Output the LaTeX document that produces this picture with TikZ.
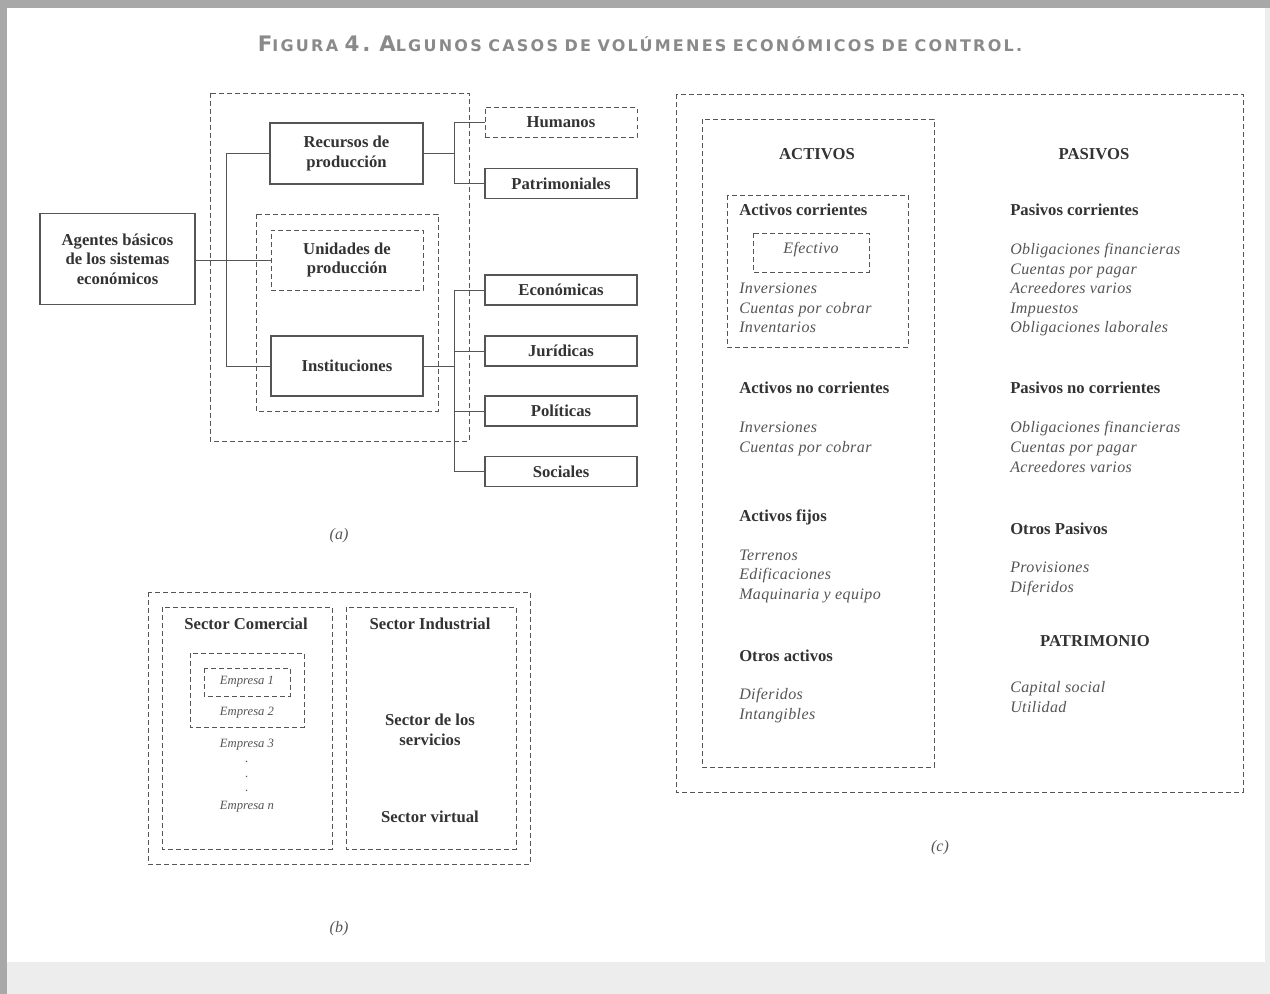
\documentclass[tikz,border=0pt]{standalone}
\usepackage{fontspec}
\setmainfont{Liberation Serif}
\newfontfamily\titlefont[LetterSpace=14]{DejaVu Sans}
\newfontfamily\itfont[LetterSpace=2.5]{Liberation Serif}
\usetikzlibrary{calc}
\definecolor{ink}{HTML}{333333}
\definecolor{lgray}{HTML}{555555}
\definecolor{itgray}{HTML}{555555}
\definecolor{ttl}{HTML}{8A8A8A}
\definecolor{band}{HTML}{A8A8A8}
\definecolor{bandlight}{HTML}{EDEDED}
\newcommand\tcap[2]{{\fontsize{16}{16}\selectfont #1}{\fontsize{12}{12}\selectfont #2}}
\tikzset{
  box/.style={draw=lgray, line width=0.8pt, text=ink, font=\fontsize{12.5}{14.6}\selectfont\bfseries, align=center, inner sep=0pt},
  dbox/.style={box, line width=0.7pt, dash pattern=on 3.5pt off 2.5pt},
  dframe/.style={draw=lgray, line width=0.7pt, dash pattern=on 3.5pt off 2.5pt},
  conn/.style={draw=lgray, line width=0.65pt},
  bld/.style={text=ink, font=\fontsize{12.5}{14.6}\selectfont\bfseries, inner sep=0pt},
  itl/.style={text=itgray, font=\itfont\fontsize{12}{14.6}\selectfont\itshape, inner sep=0pt},
  sitl/.style={text=itgray, font=\fontsize{9.5}{11}\selectfont\itshape, inner sep=0pt},
  captxt/.style={text=itgray, font=\fontsize{12}{14}\selectfont\itshape, inner sep=0pt},
  rbox/.style={box, minimum width=114pt, minimum height=22.5pt},
}
\begin{document}
\begin{tikzpicture}[x=0.75pt, y=-0.75pt]
\useasboundingbox (0,0) rectangle (1270,994);
\fill[white] (0,0) rectangle (1270,994);
% frame
\fill[band] (0,0) rectangle (1270,8);
\fill[band] (0,0) rectangle (7,994);
\fill[bandlight] (7,962) rectangle (1270,994);
\fill[bandlight] (1265,8) rectangle (1270,994);
% title
\node[text=ttl, font=\titlefont\bfseries, inner sep=0pt] (title) at (640,44)
  {\tcap{F}{IGURA} \tcap{4.}{} \tcap{A}{LGUNOS} \tcap{}{CASOS} \tcap{}{DE} \tcap{}{VOLÚMENES} \tcap{}{ECONÓMICOS} \tcap{}{DE} \tcap{}{CONTROL.}};

% ---------------- (a)
\draw[dframe] (210,93) rectangle (469,441);
\draw[dframe] (256,214) rectangle (438,411);
\node[box, minimum width=116.25pt, minimum height=68.25pt] (ag) at (117.5,259) {Agentes básicos\\de los sistemas\\económicos};
\node[box, minimum width=114.75pt, minimum height=45.75pt] (rec) at (346.5,153.5) {Recursos de\\producción};
\node[dbox, minimum width=114pt, minimum height=45pt] (uni) at (347,260) {Unidades de\\producción};
\node[box, minimum width=114pt, minimum height=45pt] (ins) at (347,366) {Instituciones};
\node[rbox, line width=0.7pt, dash pattern=on 3.5pt off 2.5pt] (hum) at (561,122.5) {Humanos};
\node[rbox] (pat) at (561,183.5) {Patrimoniales};
\node[rbox] (eco) at (561,290) {Económicas};
\node[rbox] (jur) at (561,351) {Jurídicas};
\node[rbox] (pol) at (561,411) {Políticas};
\node[rbox] (soc) at (561,471.5) {Sociales};
\coordinate (bl) at (226,0);
\coordinate (br) at (454,0);
\draw[conn] (uni.west -| ag.east) -- (uni.west);
\draw[conn] (rec.west) -- (rec.west -| bl) -- (ins.west -| bl) -- (ins.west);
\draw[conn] (rec.east) -- (rec.east -| br);
\draw[conn] (hum.west) -- (hum.west -| br) -- (pat.west -| br) -- (pat.west);
\draw[conn] (ins.east) -- (ins.east -| br);
\draw[conn] (eco.west) -- (eco.west -| br) -- (soc.west -| br) -- (soc.west);
\draw[conn] (jur.west) -- (jur.west -| br);
\draw[conn] (pol.west) -- (pol.west -| br);
\node[captxt] (capa) at (339,536) {(a)};

% ---------------- (b)
\draw[dframe] (148,592) rectangle (530,864);
\draw[dframe] (162,607) rectangle (332,849);
\draw[dframe] (346,607) rectangle (516,849);
\draw[dframe] (190,653) rectangle (304,727);
\draw[dframe] (204,668) rectangle (290,696);
\node[bld] (scom) at (246,624) {Sector Comercial};
\node[bld] (sind) at (430,624) {Sector Industrial};
\node[bld, align=center] (sser) at (430,730) {Sector de los\\servicios};
\node[bld] (svir) at (430,817) {Sector virtual};
\node[sitl] (e1) at (247,682) {Empresa 1};
\node[sitl] (e2) at (247,713) {Empresa 2};
\node[sitl] (e3) at (247,745) {Empresa 3};
\node[sitl] (d1) at (247,762) {.};
\node[sitl] (d2) at (247,777) {.};
\node[sitl] (d3) at (247,791) {.};
\node[sitl] (en) at (247,807) {Empresa \textit{n}};
\node[captxt] (capb) at (339,929) {(b)};

% ---------------- (c)
\draw[dframe] (676,94) rectangle (1243,792);
\draw[dframe] (702,119) rectangle (934,767);
\draw[dframe] (727,195) rectangle (908,347);
\draw[dframe] (753,233) rectangle (869,272);
\node[bld] (act) at (817,154) {ACTIVOS};
\node[bld] (pas) at (1094,154) {PASIVOS};
\node[bld] (pat2) at (1095,641) {PATRIMONIO};
\node[itl] (efe) at (811,250) {Efectivo};
\foreach \t/\y/\n in {Activos corrientes/211/a1, Activos no corrientes/389/a2, Activos fijos/516/a3, Otros activos/656/a4}
  \node[bld, anchor=base west] (\n) at (739,\y+5) {\t};
\foreach \t/\y/\n in {Inversiones/289/i1, Cuentas por cobrar/309/i2, Inventarios/328/i3, Inversiones/428/i4, Cuentas por cobrar/447/i5, Terrenos/555/i6, Edificaciones/574/i7, Maquinaria y equipo/594/i8, Diferidos/694/i9, Intangibles/714/i10}
  \node[itl, anchor=base west] (\n) at (739,\y+5) {\t};
\foreach \t/\y/\n in {Pasivos corrientes/211/p1, Pasivos no corrientes/389/p2, Otros Pasivos/529/p3}
  \node[bld, anchor=base west] (\n) at (1010,\y+5) {\t};
\foreach \t/\y/\n in {Obligaciones financieras/250/q1, Cuentas por pagar/270/q2, Acreedores varios/289/q3, Impuestos/309/q4, Obligaciones laborales/328/q5, Obligaciones financieras/428/q6, Cuentas por pagar/447/q7, Acreedores varios/467/q8, Provisiones/567/q9, Diferidos/587/q10, Capital social/687/q11, Utilidad/707/q12}
  \node[itl, anchor=base west] (\n) at (1010,\y+5) {\t};
\node[captxt] (capc) at (940,848) {(c)};
\end{tikzpicture}
\end{document}
